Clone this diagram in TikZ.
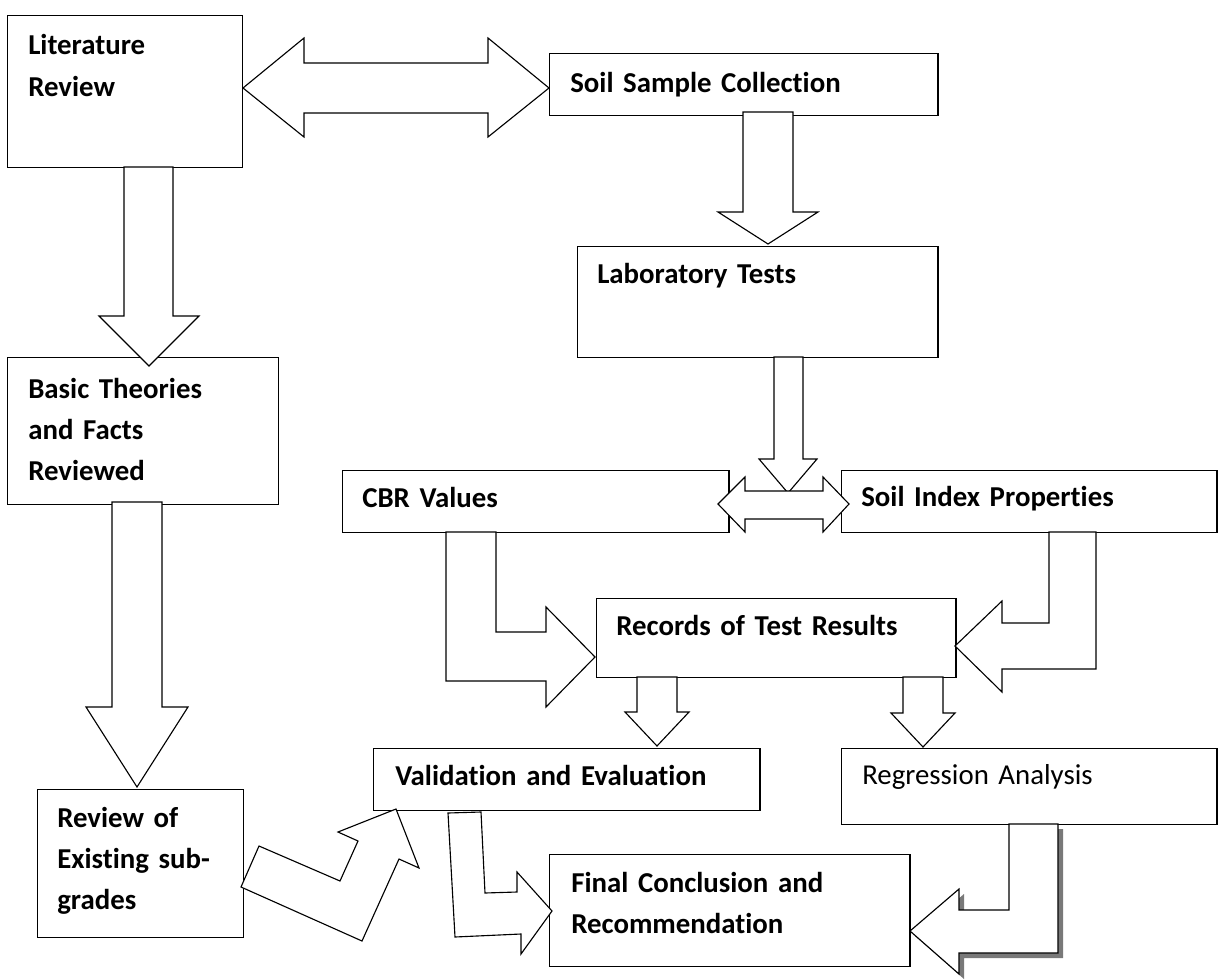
\documentclass[tikz,border=0pt]{standalone}
\usepackage{fontspec}
\setmainfont{Carlito}[RawFeature=-liga]
\newcommand{\flowfont}{\fontsize{20.5}{29.5}\selectfont\spaceskip=0.17em\relax}
\tikzset{
	box/.style={draw, line width=1pt, fill=white, anchor=north west, inner sep=0pt},
	blockarrow/.style={draw, fill=white, line width=0.8pt, line join=miter},
	shadowarrow/.style={fill=gray!95!black, draw=none},
	txt/.style={anchor=base west, inner sep=0pt, text width=8cm, align=left,
		font=\bfseries\flowfont},
	plaintxt/.style={txt, font=\mdseries\flowfont}
}
\begin{document}
\begin{tikzpicture}[x=0.025cm, y=-0.025cm]
		\useasboundingbox (0,0) rectangle (1221,979);
		% boxes
		\node [box, minimum width=5.875cm, minimum height=3.8cm] (lit) at (7,15) {};
		\node [box, minimum width=9.7cm, minimum height=1.55cm] (soil) at (549,53) {};
		\node [box, minimum width=9cm, minimum height=2.775cm] (lab) at (577,246) {};
		\node [box, minimum width=6.775cm, minimum height=3.675cm] (basic) at (7,357) {};
		\node [box, minimum width=9.65cm, minimum height=1.55cm] (cbr) at (342,470) {};
		\node [box, minimum width=9.375cm, minimum height=1.55cm] (index) at (841,470) {};
		\node [box, minimum width=8.975cm, minimum height=1.975cm] (records) at (596,598) {};
		\node [box, minimum width=9.65cm, minimum height=1.55cm] (valid) at (373,748) {};
		\node [box, minimum width=9.375cm, minimum height=1.9cm] (regr) at (841,748) {};
		\node [box, minimum width=5.15cm, minimum height=3.7cm] (review) at (37,789) {};
		\node [box, minimum width=9cm, minimum height=2.8cm] (final) at (549,854) {};
		% texts
		\node [txt] (litT) at (28,55) {Literature\\Review};
		\node [txt] (soilT) at (570,92) {Soil Sample Collection};
		\node [txt] (labT) at (597,283) {Laboratory Tests};
		\node [txt] (basicT) at (28,398) {Basic Theories\\and Facts\\Reviewed};
		\node [txt] (cbrT) at (362,507) {CBR Values};
		\node [txt] (indexT) at (861,506) {Soil Index Properties};
		\node [txt] (recordsT) at (616,635) {Records of Test Results};
		\node [txt] (validT) at (395,785) {Validation and Evaluation};
		\node [plaintxt] (regrT) at (862,784) {Regression Analysis};
		\node [txt] (reviewT) at (57,827) {Review of\\Existing sub-\\grades};
		\node [txt] (finalT) at (571,892) {Final Conclusion and\\Recommendation};
		% block arrows
		\draw [blockarrow] (243,88) -- (304,38) -- (304,63) -- (488,63) -- (488,38) -- (549,88)
			-- (488,137) -- (488,113) -- (304,113) -- (304,137) -- cycle;
		\draw [blockarrow] (124,167) -- (173,167) -- (173,316) -- (199,316) -- (149,366) -- (99,316) -- (124,316) -- cycle;
		\draw [blockarrow] (743,112) -- (793,112) -- (793,212) -- (818,212) -- (768,244) -- (718,212) -- (743,212) -- cycle;
		\draw [blockarrow] (774,357) -- (803,357) -- (803,459) -- (817,459) -- (788,493) -- (759,459) -- (774,459) -- cycle;
		\draw [blockarrow] (718,504) -- (745,477) -- (745,491) -- (823,491) -- (823,477) -- (849,504)
			-- (823,532) -- (823,519) -- (745,519) -- (745,532) -- cycle;
		\draw [blockarrow] (446,532) -- (496,532) -- (496,632) -- (546,632) -- (546,607) -- (595,657)
			-- (546,707) -- (546,681) -- (446,681) -- cycle;
		\draw [blockarrow] (1096,532) -- (1049,532) -- (1049,623) -- (1002,623) -- (1002,601) -- (955,646)
			-- (1002,692) -- (1002,669) -- (1096,669) -- cycle;
		\draw [blockarrow] (637,677) -- (677,677) -- (677,712) -- (689,712) -- (657,746) -- (625,712) -- (637,712) -- cycle;
		\draw [blockarrow] (903,677) -- (943,677) -- (943,713) -- (955,713) -- (923,747) -- (891,713) -- (903,713) -- cycle;
		\draw [blockarrow] (112,502) -- (162,502) -- (162,707) -- (188,707) -- (137,787) -- (86,707) -- (112,707) -- cycle;
		\draw [blockarrow] (241,887) -- (259,846) -- (340,881) -- (358,841) -- (338,832) -- (396,809)
			-- (419,868) -- (399,859) -- (362,941) -- cycle;
		\draw [blockarrow] (448,813) -- (481,812) -- (485,893) -- (517,892) -- (517,872) -- (552,911)
			-- (521,954) -- (521,934) -- (455,937) -- cycle;
		% arrow with shadow
		\fill [shadowarrow, shift={(5,5)}] (1009,824) -- (1009,910) -- (959,910) -- (959,889) -- (910,931)
			-- (959,974) -- (959,953) -- (1058,953) -- (1058,824) -- cycle;
		\draw [blockarrow] (1009,824) -- (1009,910) -- (959,910) -- (959,889) -- (910,931)
			-- (959,974) -- (959,953) -- (1058,953) -- (1058,824) -- cycle;
\end{tikzpicture}
\end{document}
